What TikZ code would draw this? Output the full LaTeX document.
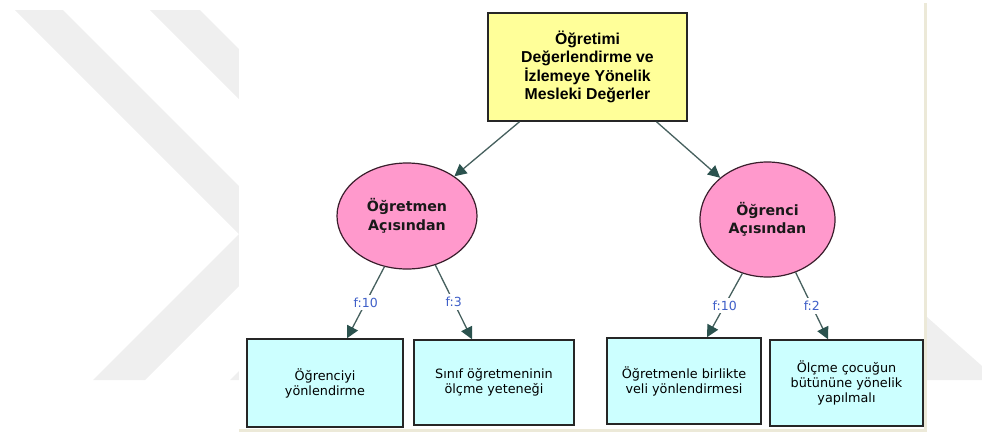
\documentclass[tikz,border=0pt]{standalone}
\usepackage{fontspec}
\setmainfont{DejaVu Sans}
\newfontfamily\arialfont{Liberation Sans}
\usetikzlibrary{arrows.meta,shapes.geometric,calc}

\definecolor{boxyellow}{HTML}{FFFF99}
\definecolor{ovalpink}{HTML}{FF99CC}
\definecolor{ovalrim}{HTML}{3A1E2C}
\definecolor{leafcyan}{HTML}{CCFFFF}
\definecolor{linkteal}{HTML}{46605E}
\definecolor{tipteal}{HTML}{2B524E}
\definecolor{freqblue}{HTML}{3F5FC8}
\definecolor{framebeige}{HTML}{ECE9D8}
\definecolor{markgray}{HTML}{EFEFEF}

\tikzset{
  rootbox/.style={draw=black!85, line width=1.5pt, fill=boxyellow,
    minimum width=199pt, minimum height=108pt, inner sep=0pt, align=center,
    font=\arialfont\bfseries\fontsize{15.8}{18.5}\selectfont},
  viewpoint/.style={ellipse, draw=ovalrim, line width=1.2pt, fill=ovalpink,
    inner sep=0pt, align=center, text=black!90,
    font=\bfseries\fontsize{14.2}{18.5}\selectfont},
  leafbox/.style={draw=black!85, line width=1.5pt, fill=leafcyan,
    inner sep=0pt, align=center,
    font=\fontsize{12.8}{15}\selectfont},
  link/.style={draw=linkteal, line width=1.3pt,
    -{Triangle[length=12pt,width=12pt,color=tipteal]}},
  freq/.style={fill=white, text=freqblue, inner sep=3pt,
    font=\fontsize{12.5}{15}\selectfont}
}

\begin{document}
\begin{tikzpicture}[x=1pt,y=-1pt]
\useasboundingbox (0,0) rectangle (982,432);

% faint chevron marks behind the chart area
\fill[markgray] (15,10) -- (63,10) -- (289,236) -- (145,380) -- (93,380)
  -- (239,234) -- cycle;
\fill[markgray] (150,10) -- (200,10) -- (425,235) -- (280,380) -- (230,380)
  -- (375,235) -- cycle;
\fill[markgray] (927,317) -- (982,366) -- (982,380) -- (927,380) -- cycle;

% chart canvas with its frame
\fill[white] (239,0) rectangle (925,429);
\draw[framebeige, line width=3pt] (925,3) -- (925,430.5) -- (239,430.5);

% nodes
\node[rootbox] (root) at (587.5,67)
  {Öğretimi\\Değerlendirme ve\\İzlemeye Yönelik\\Mesleki Değerler};

\node[viewpoint, minimum width=140pt, minimum height=106pt] (teacher)
  at (407,216) {Öğretmen\\Açısından};
\node[viewpoint, minimum width=135pt, minimum height=115pt] (student)
  at (767.5,219.5) {Öğrenci\\Açısından};

\node[leafbox, minimum width=156pt, minimum height=88pt] (leafA)
  at (325,383) {Öğrenciyi\\yönlendirme};
\node[leafbox, minimum width=160pt, minimum height=85pt] (leafB)
  at (494,382.5) {Sınıf öğretmeninin\\ölçme yeteneği};
\node[leafbox, minimum width=154pt, minimum height=86pt] (leafC)
  at (684,381) {Öğretmenle birlikte\\veli yönlendirmesi};
\node[leafbox, minimum width=153pt, minimum height=86pt] (leafD)
  at (846.5,383) {Ölçme çocuğun\\bütününe yönelik\\yapılmalı};

% connectors
\draw[link] ($(root.south)+(-68,0)$) -- (teacher);
\draw[link] ($(root.south)+(69,0)$) -- (student);

\draw[link] (teacher.246) -- node[freq] {f:10} ($(leafA.north)+(22,0)$);
\draw[link] (teacher.300) -- node[freq] {f:3} ($(leafB.north)+(-22,0)$);
\draw[link] (student.245) -- node[freq] {f:10} ($(leafC.north)+(23,0)$);
\draw[link] (student.298) -- node[freq] {f:2} ($(leafD.north)+(-18.5,0)$);
\end{tikzpicture}
\end{document}
